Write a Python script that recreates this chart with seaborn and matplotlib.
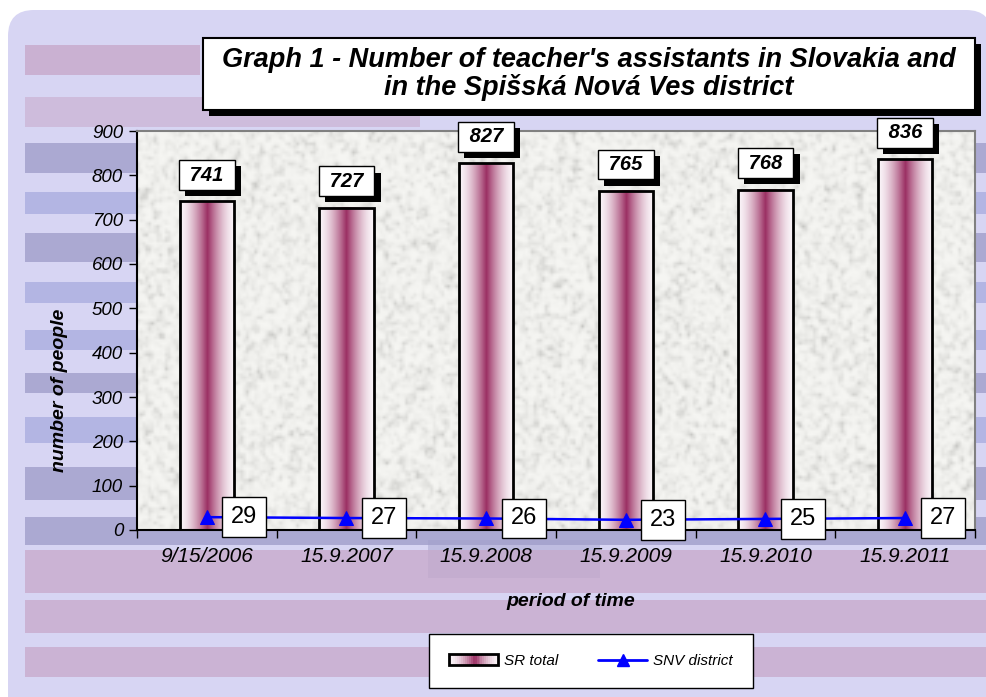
import numpy as np
import pandas as pd
import matplotlib
matplotlib.use("Agg")
import matplotlib.pyplot as plt
import matplotlib.patheffects as pe
from matplotlib.patches import Rectangle, FancyBboxPatch, Patch
from matplotlib.lines import Line2D
from matplotlib.colors import LinearSegmentedColormap
from matplotlib.legend_handler import HandlerTuple
import seaborn as sns

# ── data ────────────────────────────────────────────────────
dates = ["9/15/2006", "15.9.2007", "15.9.2008", "15.9.2009", "15.9.2010", "15.9.2011"]
sr_total = [741, 727, 827, 765, 768, 836]
snv_district = [29, 27, 26, 23, 25, 27]

df = pd.DataFrame({"date": dates, "sr_total": sr_total, "snv_district": snv_district})

sns.set_style("ticks")
plt.rcParams["font.family"] = ["Liberation Sans", "DejaVu Sans"]
plt.rcParams["text.color"] = "black"
plt.rcParams["xtick.color"] = "black"
plt.rcParams["ytick.color"] = "black"

W, H = 987, 697
fig = plt.figure(figsize=(W / 100, H / 100), dpi=100)
fig.patch.set_facecolor("white")

# ── decorative background (pixel coordinates) ──────────────
bg = fig.add_axes([0, 0, 1, 1])
bg.set_xlim(0, W)
bg.set_ylim(H, 0)
bg.axis("off")

panel = FancyBboxPatch((30, 32), 940, 700, boxstyle="round,pad=22,rounding_size=26",
                       fc="#d7d5f3", ec="none")
bg.add_patch(panel)

pink, slate, blue = "#c7a8ca", "#a09fca", "#abaddf"
stripes = [
    (25, 200, 45, 75, pink, 0.8),
    (25, 420, 97, 127, pink, 0.55),
    (25, 990, 143, 173, slate, 0.8),
    (25, 990, 192, 214, blue, 0.8),
    (25, 990, 233, 262, slate, 0.8),
    (25, 990, 282, 303, blue, 0.8),
    (25, 990, 330, 350, blue, 0.8),
    (25, 990, 373, 393, slate, 0.8),
    (25, 990, 417, 443, blue, 0.8),
    (25, 990, 467, 500, slate, 0.8),
    (25, 990, 517, 545, slate, 0.8),
    (428, 600, 540, 578, slate, 0.45),
    (25, 990, 550, 593, pink, 0.75),
    (25, 990, 600, 633, pink, 0.75),
    (25, 990, 647, 677, pink, 0.75),
]
for x0, x1, y0, y1, c, a in stripes:
    r = Rectangle((x0, y0), x1 - x0, y1 - y0, fc=c, ec="none", alpha=a)
    bg.add_patch(r)
    r.set_clip_path(panel)

# title box with shadow
bg.add_patch(Rectangle((209, 44), 772, 72, fc="black", ec="none"))
bg.add_patch(Rectangle((203, 38), 772, 72, fc="white", ec="black", lw=1.5))
bg.text(589, 74, "Graph 1 - Number of teacher's assistants in Slovakia and\n"
        "in the Spišská Nová Ves district",
        ha="center", va="center", fontsize=19.5, fontweight="bold", style="italic",
        linespacing=1.03)

bg.text(60, 390, "number of people", rotation=90, ha="center", va="center",
        fontsize=14, fontweight="bold", style="italic")
bg.text(571, 602, "period of time", ha="center", va="center",
        fontsize=14, fontweight="bold", style="italic")

# ── main plot area ──────────────────────────────────────────
ax = fig.add_axes([137 / W, 1 - 530 / H, (975 - 137) / W, (530 - 131) / H])
ax.set_facecolor("none")

# speckled granite texture for the plot area
rng = np.random.default_rng(3)
noise = rng.random((140, 300))
noise = (noise + np.roll(noise, 1, 0) + np.roll(noise, 1, 1) + np.roll(noise, (1, 1), (0, 1))) / 4
val = 0.965 - 0.22 * noise ** 3
tex = np.clip(np.dstack([val, val, val - 0.012]), 0, 1)
ax.imshow(tex, extent=[-0.5, 5.5, 0, 900], aspect="auto", zorder=0, interpolation="bilinear")

sns.barplot(data=df, x="date", y="sr_total", color="white", width=0.39,
            edgecolor="black", linewidth=2, errorbar=None, ax=ax, zorder=2)

# horizontal white-maroon-white gradient inside the bars
bar_cmap = LinearSegmentedColormap.from_list("bar", ["#faf4f8", "#9b2f63"])
prof = np.linspace(0, 1, 200)
weight = np.clip(1 - np.abs(prof - 0.5) / 0.5, 0, 1) ** 1.6
grad = weight[None, :]
for p in list(ax.patches):
    x0, w_, h_ = p.get_x(), p.get_width(), p.get_height()
    ax.imshow(grad, extent=[x0, x0 + w_, 0, h_], cmap=bar_cmap, vmin=0, vmax=1,
              aspect="auto", zorder=1.9)
    p.set_facecolor("none")
    p.set_zorder(2.5)

sns.lineplot(data=df, x="date", y="snv_district", color="#0000ff", marker="^",
             markersize=10, markeredgecolor="#0000ff", linewidth=1.8, sort=False,
             ax=ax, zorder=4)

# bar value labels with drop shadow
shadow = [pe.withSimplePatchShadow(offset=(4.5, -4.5), shadow_rgbFace="black", alpha=1)]
for i, v in enumerate(sr_total):
    t = ax.annotate(f" {v} ", xy=(i, v), xytext=(0, 19), textcoords="offset points",
                    ha="center", va="center", fontsize=14.5, fontweight="bold",
                    style="italic", color="black",
                    bbox=dict(boxstyle="square,pad=0.27", fc="white", ec="black", lw=1),
                    zorder=6, annotation_clip=False)
    t.get_bbox_patch().set_path_effects(shadow)

# district value labels
for i, v in enumerate(snv_district):
    ax.annotate(str(v), xy=(i, v), xytext=(27, 0), textcoords="offset points",
                ha="center", va="center", fontsize=17, color="black",
                bbox=dict(boxstyle="square,pad=0.38", fc="white", ec="black", lw=1),
                zorder=7, annotation_clip=False)

ax.set_xlim(-0.5, 5.5)
ax.set_ylim(0, 900)
ax.set_yticks(range(0, 901, 100))
ax.set_xticks(range(len(dates)))
ax.set_xticklabels(dates)
ax.set_xticks(np.arange(-0.5, len(dates), 1), minor=True)
ax.tick_params(axis="x", which="major", length=0, pad=12, labelsize=15, colors="black")
ax.tick_params(axis="x", which="minor", length=6, width=1, direction="out", color="black")
ax.tick_params(axis="y", length=6, width=1, direction="out", pad=4, labelsize=13.5,
               colors="black")
for lbl in ax.get_xticklabels() + ax.get_yticklabels():
    lbl.set_style("italic")
ax.set_xlabel("")
ax.set_ylabel("")
for side in ["left", "bottom"]:
    ax.spines[side].set_color("black")
    ax.spines[side].set_linewidth(1.5)
for side in ["top", "right"]:
    ax.spines[side].set_visible(True)
    ax.spines[side].set_color("#808080")
    ax.spines[side].set_linewidth(1.5)

# ── legend ─────────────────────────────────────────────────
class _Strips(tuple):
    pass

strip_cols = bar_cmap(weight[::8])
strips = _Strips(Patch(facecolor=c, edgecolor="none") for c in strip_cols)
frame = Patch(facecolor="none", edgecolor="black", linewidth=2)
sr_handle = (strips, frame)
line_handle = Line2D([], [], color="#0000ff", marker="^", markersize=8, linewidth=2)

leg = fig.legend(handles=[sr_handle, line_handle], labels=["SR total", "SNV district"],
                 handler_map={_Strips: HandlerTuple(ndivide=None, pad=0),
                              tuple: HandlerTuple(ndivide=1)},
                 loc="center", bbox_to_anchor=(591 / W, 1 - 661 / H), ncol=2,
                 frameon=True, fancybox=False, framealpha=1, edgecolor="black",
                 borderpad=1.3, handlelength=3.2, handletextpad=0.4, columnspacing=2.6,
                 prop=dict(style="italic", size=11))
leg.get_frame().set_linewidth(1)

fig.savefig("out.png", dpi=100)
plt.close(fig)
